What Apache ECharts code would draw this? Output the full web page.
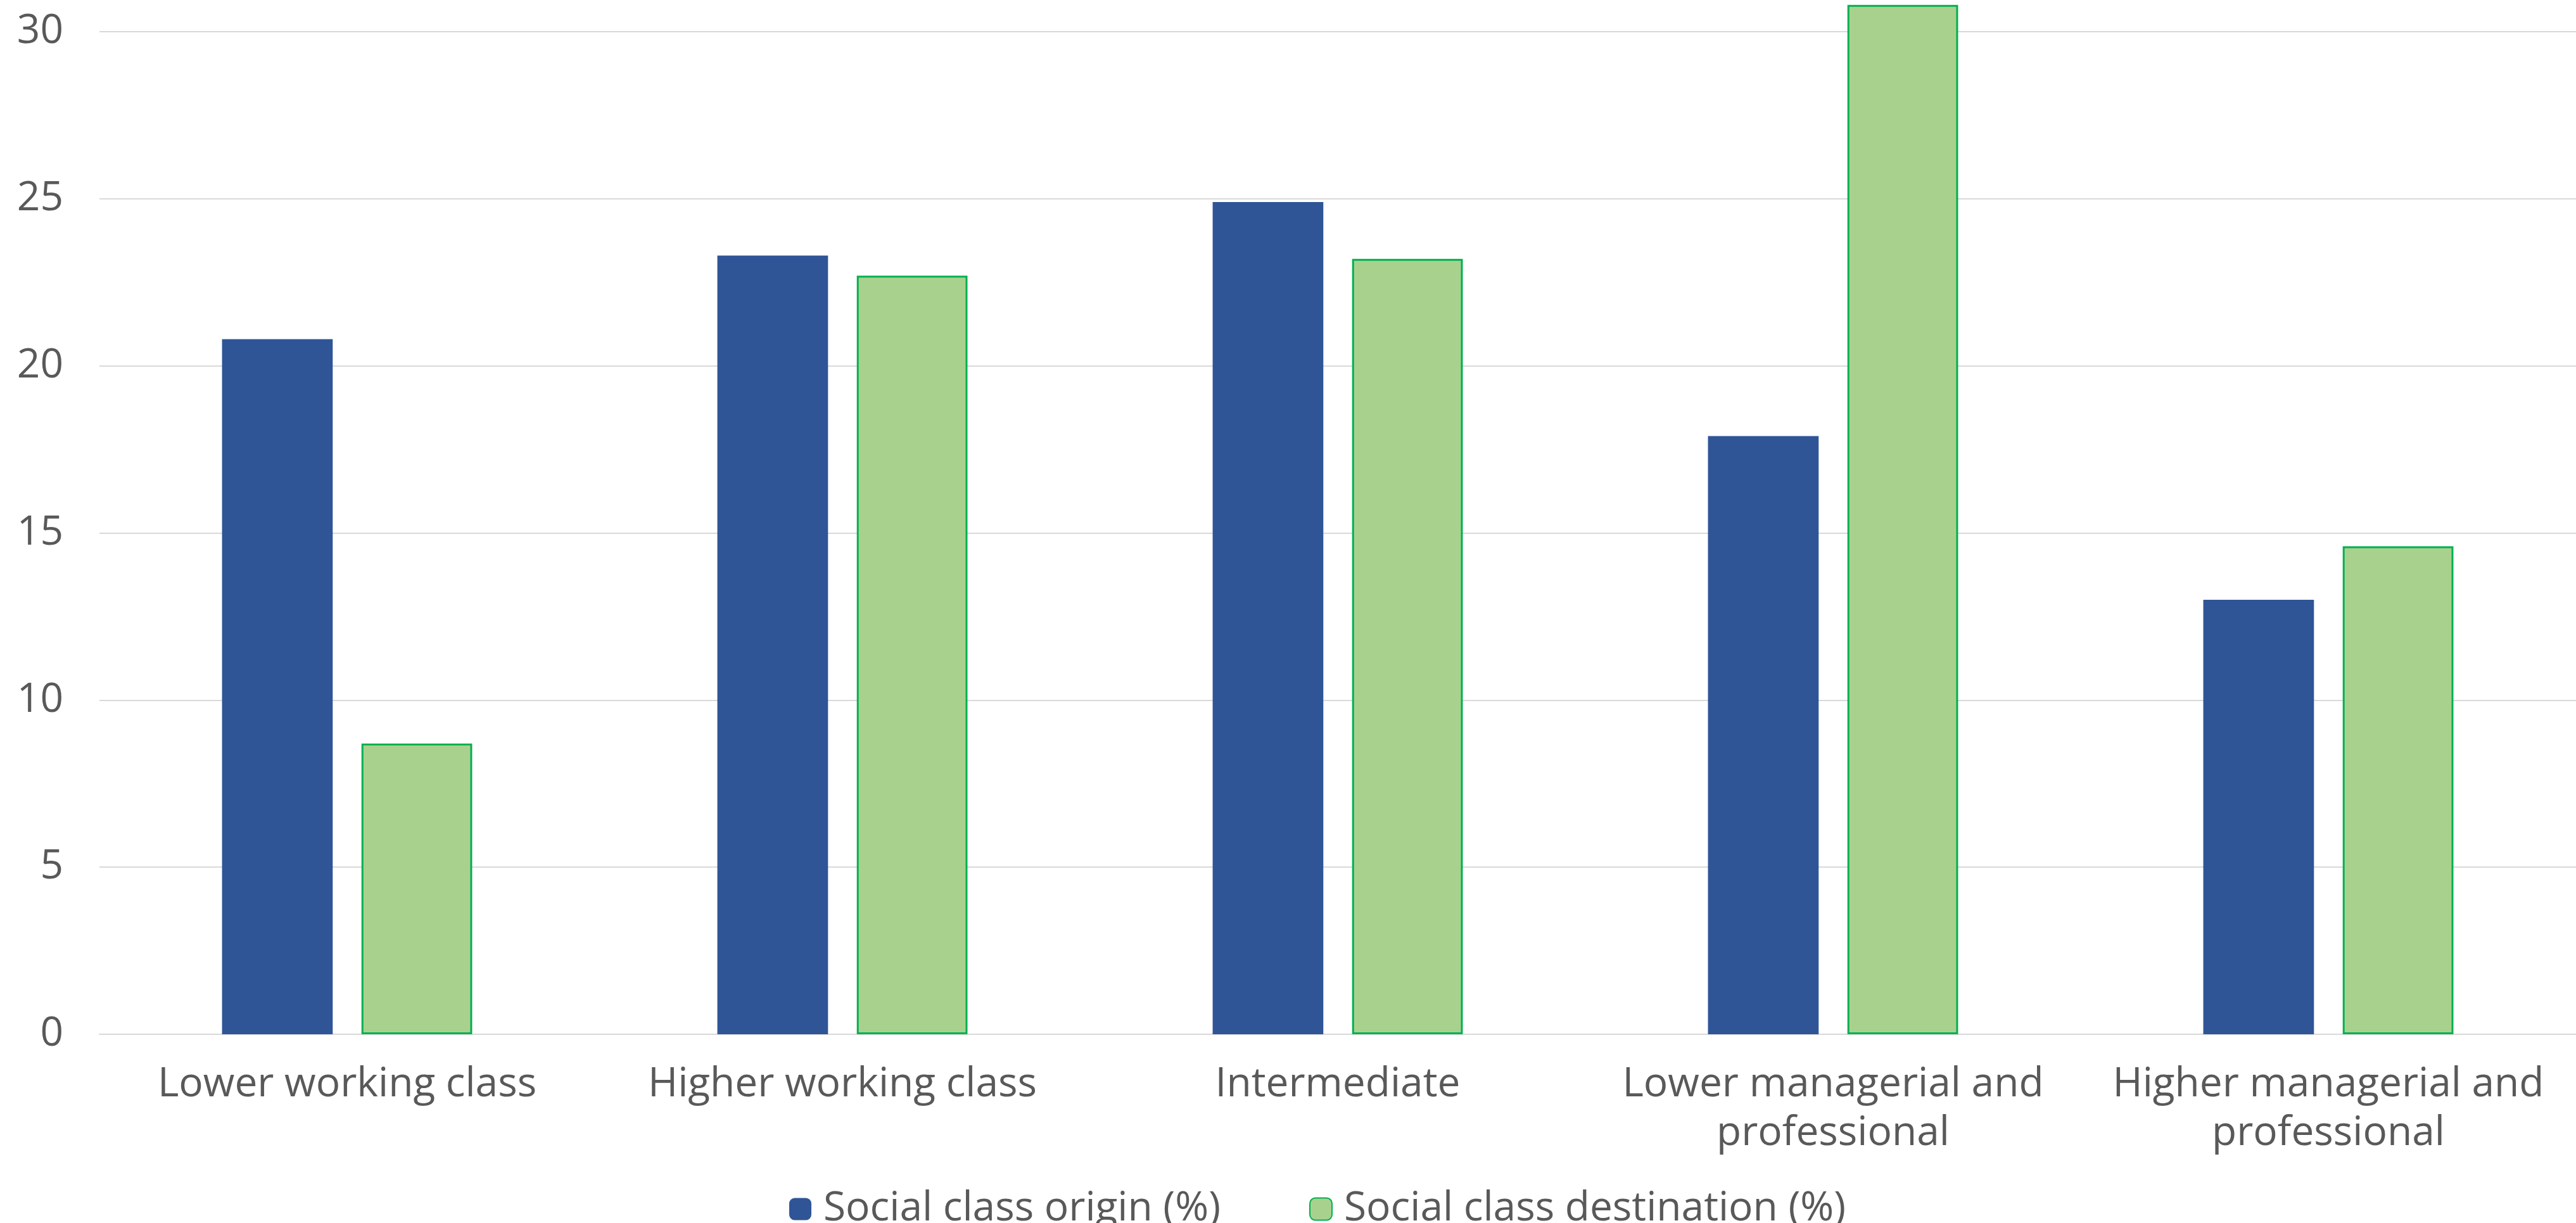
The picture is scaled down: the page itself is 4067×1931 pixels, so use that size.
<!DOCTYPE html>
<html>
<head>
<meta charset="utf-8">
<script src="https://cdn.jsdelivr.net/npm/echarts@6/dist/echarts.min.js"></script>
<style>
  html, body { margin: 0; padding: 0; background: #ffffff; }
  #chart { width: 4067px; height: 1931px; }
</style>
</head>
<body>
<div id="chart"></div>
<script>
// Social class categories, from lowest to highest
const categories = [
  'Lower working class',
  'Higher working class',
  'Intermediate',
  'Lower managerial and professional',
  'Higher managerial and professional'
];

// Share of respondents by class of origin and class of destination
const originValues = [20.8, 23.3, 24.9, 17.9, 13.0];
const destinationValues = [8.7, 22.7, 23.2, 30.8, 14.6];

const seriesNames = ['Social class origin (%)', 'Social class destination (%)'];
const yTicks = { min: 0, max: 30, step: 5 };

const FONT = '"Open Sans", sans-serif';
const TEXT = '#595959';

const chart = echarts.init(document.getElementById('chart'), null, { renderer: 'canvas' });

// shared look of the two legend entries
const legendBase = {
  top: 1872,
  itemWidth: 35,
  itemHeight: 35,
  textStyle: { fontFamily: FONT, fontSize: 64, color: TEXT, padding: [0, 0, 0, 14] }
};

chart.setOption({
  animation: false,
  backgroundColor: '#ffffff',
  textStyle: { fontFamily: FONT, color: TEXT },
  // plot area runs slightly past the right edge of the canvas
  grid: { left: 157, width: 3923, top: 50, bottom: 298, containLabel: false },
  legend: [
    Object.assign({ data: [seriesNames[0]], left: 1241 }, legendBase),
    Object.assign({ data: [seriesNames[1]], left: 2062 }, legendBase)
  ],
  xAxis: {
    type: 'category',
    data: categories,
    axisLine: { show: true, lineStyle: { color: '#D9D9D9', width: 2 } },
    axisTick: { show: false },
    axisLabel: {
      fontFamily: FONT,
      fontSize: 64,
      color: TEXT,
      margin: 41,
      lineHeight: 77,
      interval: 0,
      formatter: v => v.replace(' and ', ' and\n')
    }
  },
  yAxis: {
    type: 'value',
    min: yTicks.min,
    max: yTicks.max,
    interval: yTicks.step,
    axisLine: { show: false },
    axisTick: { show: false },
    splitLine: { lineStyle: { color: '#D9D9D9', width: 2 } },
    axisLabel: { fontFamily: FONT, fontSize: 64, color: TEXT, margin: 57 }
  },
  series: [
    {
      name: seriesNames[0],
      type: 'bar',
      data: originValues,
      barGap: '26%',
      barCategoryGap: '49.5%',
      clip: false,
      itemStyle: { color: '#2F5597' }
    },
    {
      name: seriesNames[1],
      type: 'bar',
      data: destinationValues,
      clip: false,
      itemStyle: { color: '#A9D18E', borderColor: '#00B050', borderWidth: 3 }
    }
  ]
});
</script>
</body>
</html>
